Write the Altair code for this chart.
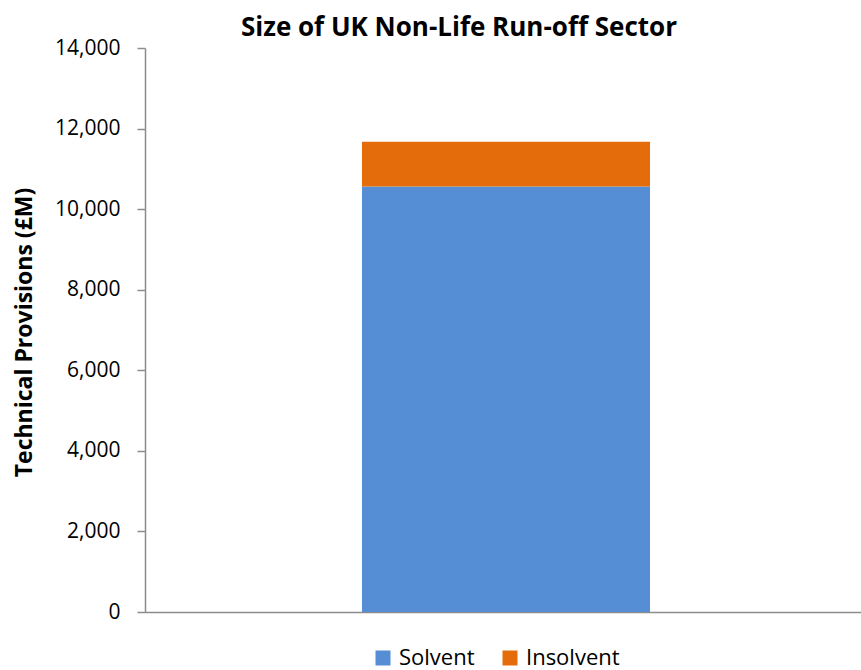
import altair as alt
import pandas as pd

# Technical provisions (GBP millions) split by solvency status
statuses = ["Solvent", "Insolvent"]
provisions = [10560, 1110]
stack_order = [0, 1]
colors = ["#558ED5", "#E46C0A"]
y_ticks = [0, 2000, 4000, 6000, 8000, 10000, 12000, 14000]

df = pd.DataFrame({
    "sector": ["Non-Life Run-off"] * len(statuses),
    "status": statuses,
    "provisions": provisions,
    "order": stack_order,
})

FONT = "Open Sans"

chart = (
    alt.Chart(df)
    .mark_bar()
    .encode(
        x=alt.X(
            "sector:N",
            title=None,
            scale=alt.Scale(paddingInner=0, paddingOuter=0.743, align=0.507),
            axis=alt.Axis(labels=False, ticks=False, domainColor="#8C8C8C",
                          domainWidth=1.5),
        ),
        y=alt.Y(
            "provisions:Q",
            stack="zero",
            title="Technical Provisions (£M)",
            scale=alt.Scale(domain=[0, 14000], nice=False),
            axis=alt.Axis(
                values=y_ticks,
                format=",.0f",
                grid=False,
                domainColor="#8C8C8C",
                domainWidth=1.5,
                tickColor="#8C8C8C",
                tickWidth=1.5,
                tickSize=8,
                labelFont=FONT,
                labelFontSize=21,
                labelColor="#000000",
                labelPadding=17,
                titleFont=FONT,
                titleFontSize=23,
                titleFontWeight="bold",
                titleColor="#000000",
                titleX=-121,
                titleY=284,
                titleAlign="center",
                titleBaseline="middle",
            ),
        ),
        color=alt.Color(
            "status:N",
            scale=alt.Scale(domain=statuses, range=colors),
            legend=alt.Legend(
                title=None,
                orient="none",
                direction="horizontal",
                legendX=227,
                legendY=599,
                symbolType="square",
                symbolSize=225,
                symbolStrokeWidth=0,
                labelFont=FONT,
                labelFontSize=22,
                labelColor="#000000",
                labelOffset=5,
                columnPadding=24,
            ),
        ),
        order=alt.Order("order:Q"),
    )
    .properties(
        width=716,
        height=564,
        autosize=alt.AutoSizeParams(type="none"),
        padding={"left": 145, "top": 48, "right": 0, "bottom": 58},
        title=alt.TitleParams(
            "Size of UK Non-Life Run-off Sector",
            font=FONT,
            fontSize=26,
            fontWeight="bold",
            color="#000000",
            anchor="middle",
            frame="group",
            dx=-44,
            dy=35,
            baseline="alphabetic",
            offset=10,
        ),
    )
    .configure_view(stroke=None)
)

chart.save("out.html", embed_options={"renderer": "svg", "actions": False})
